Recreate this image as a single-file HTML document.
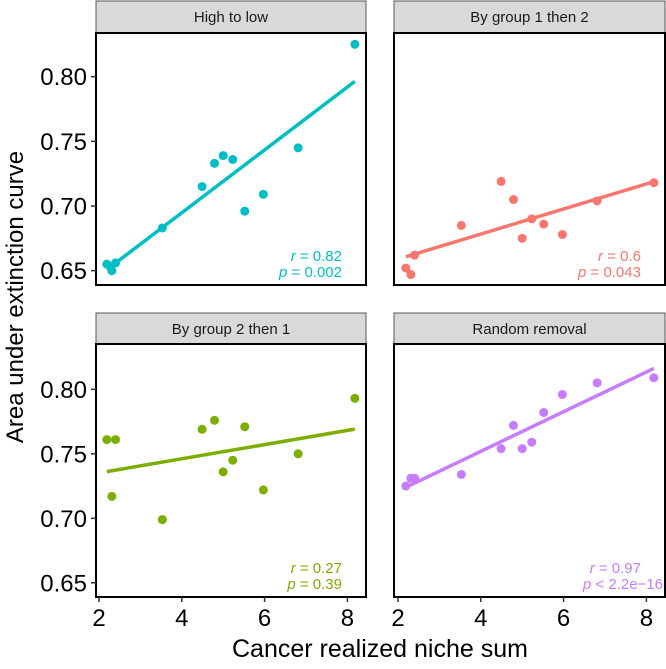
<!DOCTYPE html>
<html><head><meta charset="utf-8"><style>
body{margin:0;background:#fff}
svg{display:block;font-family:"Liberation Sans",Arial,sans-serif}
</style></head><body>
<svg id="c" width="666" height="669" viewBox="0 0 666 669" xmlns="http://www.w3.org/2000/svg"></svg>
<script>
const xVals=[2.19,2.31,2.40,3.53,4.49,4.79,5.00,5.23,5.52,5.97,6.81,8.18];
const yHighLow=[0.655,0.650,0.656,0.683,0.715,0.733,0.739,0.736,0.696,0.709,0.745,0.825];
const yGroup12=[0.652,0.647,0.662,0.685,0.719,0.705,0.675,0.690,0.686,0.678,0.704,0.718];
const yGroup21=[0.761,0.717,0.761,0.699,0.769,0.776,0.736,0.745,0.771,0.722,0.750,0.793];
const yRandom=[0.725,0.731,0.731,0.734,0.754,0.772,0.754,0.759,0.782,0.796,0.805,0.809];
const panelTitles=["High to low","By group 1 then 2","By group 2 then 1","Random removal"];
const rLabels=["0.82","0.6","0.27","0.97"];
const pLabels=["= 0.002","= 0.043","= 0.39","< 2.2e\u221216"];
const yTicks=[0.65,0.70,0.75,0.80];
const yTickLabels=["0.65","0.70","0.75","0.80"];
const xTicks=[2,4,6,8];
const colors=["#00BFC4","#F8766D","#7CAE00","#C77CFF"];
const series=[yHighLow,yGroup12,yGroup21,yRandom];

const svg=document.getElementById('c');
const NS="http://www.w3.org/2000/svg";
function mk(t,a,parent){const e=document.createElementNS(NS,t);for(const k in a)e.setAttribute(k,a[k]);(parent||svg).appendChild(e);return e;}
const panels=[
 {x0:96,x1:366,y0:33,y1:285,sy0:1,xo:99,yo:76.7,ys:1293},
 {x0:394,x1:665,y0:33,y1:285,sy0:1,xo:398,yo:76.7,ys:1293},
 {x0:96,x1:366,y0:344,y1:597,sy0:313,xo:99,yo:389.3,ys:1290},
 {x0:394,x1:665,y0:344,y1:597,sy0:313,xo:398,yo:389.3,ys:1290}];
const xs=(p,v)=>p.xo+(v-2)*41.4;
const ysf=(p,v)=>p.yo+(0.8-v)*p.ys;

panels.forEach((p,i)=>{
 const g=mk('g',{});
 
 
 const strip=mk('rect',{x:p.x0,y:p.sy0,width:p.x1-p.x0,height:p.y0-p.sy0,fill:'#d9d9d9',stroke:'#333','stroke-width':0.8},g);
 
 
 const st=mk('text',{x:(p.x0+p.x1)/2,y:p.sy0+21,'text-anchor':'middle','font-size':15,fill:'#1a1a1a'},g);
 st.textContent=panelTitles[i];
 
 
 const fr=mk('rect',{x:p.x0,y:p.y0,width:p.x1-p.x0,height:p.y1-p.y0,fill:'#fff',stroke:'#000','stroke-width':2},g);
 
 
 const ys=series[i];
 const n=xVals.length;let mx=0,my=0;for(let k=0;k<n;k++){mx+=xVals[k];my+=ys[k];}mx/=n;my/=n;
 let sxy=0,sxx=0;for(let k=0;k<n;k++){sxy+=(xVals[k]-mx)*(ys[k]-my);sxx+=(xVals[k]-mx)**2;}
 const b=sxy/sxx,a=my-b*mx;const xa=Math.min(...xVals),xb=Math.max(...xVals);
 const ln=mk('line',{x1:xs(p,xa),y1:ysf(p,a+b*xa),x2:xs(p,xb),y2:ysf(p,a+b*xb),stroke:colors[i],'stroke-width':3.5},g);
 
 
 for(let k=0;k<n;k++){
  const c=mk('circle',{cx:xs(p,xVals[k]),cy:ysf(p,ys[k]),r:4.5,fill:colors[i]},g);
  
  
 }
 const t1=mk('text',{x:p.x1-24,y:p.y1-24,'text-anchor':'end','font-size':15,fill:colors[i]},g);
 t1.innerHTML='<tspan font-style="italic">r</tspan> = '+rLabels[i];
 
 
 const t2=mk('text',{x:i==3?p.x1-2:p.x1-24,y:p.y1-8,'text-anchor':'end','font-size':15,fill:colors[i]},g);
 t2.innerHTML='<tspan font-style="italic">p</tspan> '+pLabels[i];
 
 
 if(i%2==0){
  yTicks.forEach((v,j)=>{
   const y=ysf(p,v);
   const tk=mk('line',{x1:p.x0-5,x2:p.x0,y1:y,y2:y,stroke:'#333','stroke-width':1.5},g);
   
   
   const tl=mk('text',{x:p.x0-9,y:y+8.5,'text-anchor':'end','font-size':24,fill:'#000'},g);
   tl.textContent=yTickLabels[j];
   
   
  });
 }
 if(i>=2){
  xTicks.forEach(v=>{
   const x=xs(p,v);
   const tk=mk('line',{x1:x,x2:x,y1:p.y1,y2:p.y1+5,stroke:'#333','stroke-width':1.5},g);
   
   
   const tl=mk('text',{x:x,y:p.y1+29,'text-anchor':'middle','font-size':24,fill:'#000'},g);
   tl.textContent=v;
   
   
  });
 }
});
const xt=mk('text',{x:380,y:657,'text-anchor':'middle','font-size':25,fill:'#000'});
xt.textContent='Cancer realized niche sum';


const yt=mk('text',{x:0,y:0,'text-anchor':'middle','font-size':24,fill:'#000',transform:'translate(23,297) rotate(-90)'});
yt.textContent='Area under extinction curve';


</script>
</body></html>
